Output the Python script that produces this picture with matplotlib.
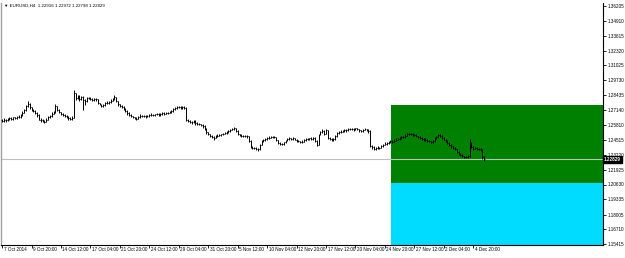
import matplotlib
matplotlib.use("Agg")
import matplotlib.pyplot as plt
import matplotlib.transforms as mtransforms
from matplotlib.patches import Rectangle

plt.rcParams['font.family'] = ['Liberation Sans', 'DejaVu Sans']

# ---- data (EURUSD H4, 7 Oct 2014 04:00 .. 5 Dec 2014 20:00) ----
closes = [
    1.2616, 1.2628, 1.2622, 1.2635, 1.2642,
    1.2633, 1.2648, 1.2641, 1.2655, 1.2650, 1.2662,
    1.2690, 1.2712, 1.2745, 1.2768, 1.2735, 1.2712,
    1.2705, 1.2690, 1.2668, 1.2630, 1.2625, 1.2618,
    1.2612, 1.2630, 1.2648, 1.2660, 1.2682, 1.2694,
    1.2745, 1.2715, 1.2692, 1.2680, 1.2672, 1.2665,
    1.2650, 1.2642, 1.2638, 1.2645, 1.2860, 1.2815,
    1.2832, 1.2810, 1.2824, 1.2800, 1.2790, 1.2815,
    1.2818, 1.2810, 1.2803, 1.2812, 1.2807, 1.2770,
    1.2763, 1.2746, 1.2758, 1.2770, 1.2775, 1.2781,
    1.2795, 1.2807, 1.2824, 1.2790, 1.2762, 1.2750,
    1.2737, 1.2720, 1.2705, 1.2685, 1.2672, 1.2660,
    1.2650, 1.2642, 1.2638, 1.2650, 1.2662, 1.2659,
    1.2662, 1.2655, 1.2660, 1.2668, 1.2670, 1.2672,
    1.2675, 1.2680, 1.2672, 1.2677, 1.2685, 1.2680,
    1.2688, 1.2690, 1.2694, 1.2705, 1.2718, 1.2730,
    1.2737, 1.2740, 1.2732, 1.2735, 1.2729, 1.2625,
    1.2620, 1.2612, 1.2608, 1.2615, 1.2600, 1.2595,
    1.2590, 1.2580, 1.2573, 1.2550, 1.2521, 1.2505,
    1.2490, 1.2477, 1.2470, 1.2485, 1.2490, 1.2495,
    1.2500, 1.2508, 1.2515, 1.2521, 1.2530, 1.2540,
    1.2548, 1.2555, 1.2530, 1.2503, 1.2495, 1.2490,
    1.2488, 1.2486, 1.2482, 1.2440, 1.2391, 1.2385,
    1.2380, 1.2375, 1.2373, 1.2410, 1.2443, 1.2450,
    1.2460, 1.2469, 1.2472, 1.2480, 1.2475, 1.2477,
    1.2450, 1.2425, 1.2420, 1.2417, 1.2430, 1.2445,
    1.2460, 1.2465, 1.2462, 1.2469, 1.2455, 1.2443,
    1.2440, 1.2434, 1.2438, 1.2450, 1.2458, 1.2460,
    1.2465, 1.2462, 1.2469, 1.2445, 1.2412, 1.2500,
    1.2521, 1.2530, 1.2505, 1.2538, 1.2469, 1.2460,
    1.2451, 1.2460, 1.2485, 1.2512, 1.2520, 1.2525,
    1.2530, 1.2535, 1.2538, 1.2545, 1.2550, 1.2547,
    1.2540, 1.2552, 1.2545, 1.2535, 1.2529, 1.2540,
    1.2545, 1.2538, 1.2530, 1.2399, 1.2390, 1.2373,
    1.2380, 1.2385, 1.2382, 1.2395, 1.2410, 1.2420,
    1.2425, 1.2430, 1.2440, 1.2434, 1.2445, 1.2455,
    1.2460, 1.2469, 1.2475, 1.2477, 1.2490, 1.2500,
    1.2505, 1.2503, 1.2498, 1.2495, 1.2485, 1.2478,
    1.2469, 1.2460, 1.2451, 1.2455, 1.2445, 1.2440,
    1.2434, 1.2440, 1.2469, 1.2480, 1.2495, 1.2488,
    1.2469, 1.2455, 1.2440, 1.2425, 1.2410, 1.2395,
    1.2382, 1.2370, 1.2350, 1.2330, 1.2320, 1.2310,
    1.2304, 1.2300, 1.2310, 1.2420, 1.2390, 1.2375,
    1.2382, 1.2375, 1.2370, 1.2365, 1.2304, 1.2283,
]
highs = [
    1.2638, 1.2640, 1.2636, 1.2645, 1.2655,
    1.2650, 1.2655, 1.2656, 1.2664, 1.2668, 1.2675,
    1.2702, 1.2725, 1.2760, 1.2790, 1.2775, 1.2742,
    1.2720, 1.2712, 1.2695, 1.2675, 1.2645, 1.2632,
    1.2628, 1.2640, 1.2658, 1.2672, 1.2695, 1.2705,
    1.2765, 1.2750, 1.2722, 1.2700, 1.2690, 1.2682,
    1.2672, 1.2660, 1.2652, 1.2660, 1.2887, 1.2865,
    1.2845, 1.2840, 1.2838, 1.2835, 1.2812, 1.2825,
    1.2828, 1.2825, 1.2818, 1.2822, 1.2820, 1.2812,
    1.2778, 1.2768, 1.2765, 1.2780, 1.2788, 1.2792,
    1.2805, 1.2815, 1.2842, 1.2830, 1.2795, 1.2768,
    1.2755, 1.2745, 1.2728, 1.2710, 1.2692, 1.2678,
    1.2665, 1.2655, 1.2650, 1.2660, 1.2675, 1.2670,
    1.2670, 1.2668, 1.2668, 1.2678, 1.2685, 1.2680,
    1.2682, 1.2690, 1.2688, 1.2686, 1.2695, 1.2692,
    1.2695, 1.2698, 1.2702, 1.2715, 1.2728, 1.2738,
    1.2745, 1.2752, 1.2748, 1.2745, 1.2745, 1.2735,
    1.2635, 1.2628, 1.2620, 1.2630, 1.2622, 1.2610,
    1.2600, 1.2595, 1.2588, 1.2580, 1.2555, 1.2525,
    1.2508, 1.2495, 1.2485, 1.2492, 1.2500, 1.2505,
    1.2508, 1.2515, 1.2525, 1.2532, 1.2540, 1.2550,
    1.2558, 1.2565, 1.2560, 1.2535, 1.2508, 1.2500,
    1.2498, 1.2495, 1.2495, 1.2490, 1.2450, 1.2400,
    1.2392, 1.2388, 1.2385, 1.2420, 1.2455, 1.2460,
    1.2470, 1.2478, 1.2482, 1.2490, 1.2488, 1.2485,
    1.2480, 1.2455, 1.2432, 1.2428, 1.2438, 1.2452,
    1.2468, 1.2475, 1.2472, 1.2478, 1.2472, 1.2460,
    1.2450, 1.2445, 1.2448, 1.2458, 1.2468, 1.2470,
    1.2472, 1.2475, 1.2478, 1.2475, 1.2450, 1.2508,
    1.2530, 1.2545, 1.2535, 1.2545, 1.2540, 1.2478,
    1.2465, 1.2470, 1.2495, 1.2520, 1.2532, 1.2535,
    1.2540, 1.2545, 1.2548, 1.2555, 1.2560, 1.2558,
    1.2552, 1.2560, 1.2558, 1.2550, 1.2542, 1.2548,
    1.2552, 1.2550, 1.2545, 1.2535, 1.2410, 1.2398,
    1.2390, 1.2395, 1.2392, 1.2405, 1.2420, 1.2430,
    1.2432, 1.2440, 1.2450, 1.2448, 1.2458, 1.2465,
    1.2470, 1.2478, 1.2485, 1.2488, 1.2500, 1.2510,
    1.2512, 1.2515, 1.2510, 1.2505, 1.2500, 1.2490,
    1.2482, 1.2475, 1.2465, 1.2465, 1.2460, 1.2452,
    1.2445, 1.2450, 1.2475, 1.2490, 1.2502, 1.2500,
    1.2492, 1.2475, 1.2460, 1.2448, 1.2432, 1.2415,
    1.2400, 1.2388, 1.2375, 1.2355, 1.2340, 1.2328,
    1.2315, 1.2312, 1.2318, 1.2456, 1.2430, 1.2400,
    1.2392, 1.2390, 1.2385, 1.2385, 1.2370, 1.2312,
]
lows = [
    1.2605, 1.2610, 1.2612, 1.2615, 1.2628,
    1.2625, 1.2628, 1.2632, 1.2636, 1.2640, 1.2645,
    1.2658, 1.2685, 1.2705, 1.2738, 1.2725, 1.2702,
    1.2695, 1.2680, 1.2655, 1.2622, 1.2612, 1.2605,
    1.2600, 1.2608, 1.2625, 1.2642, 1.2652, 1.2675,
    1.2688, 1.2705, 1.2685, 1.2670, 1.2660, 1.2655,
    1.2640, 1.2630, 1.2622, 1.2628, 1.2640, 1.2800,
    1.2805, 1.2795, 1.2800, 1.2711, 1.2760, 1.2782,
    1.2805, 1.2800, 1.2792, 1.2795, 1.2795, 1.2762,
    1.2755, 1.2738, 1.2740, 1.2752, 1.2762, 1.2768,
    1.2775, 1.2790, 1.2800, 1.2780, 1.2752, 1.2740,
    1.2728, 1.2710, 1.2695, 1.2670, 1.2660, 1.2650,
    1.2640, 1.2632, 1.2625, 1.2635, 1.2645, 1.2650,
    1.2652, 1.2645, 1.2648, 1.2655, 1.2660, 1.2664,
    1.2665, 1.2670, 1.2662, 1.2665, 1.2672, 1.2672,
    1.2675, 1.2680, 1.2684, 1.2690, 1.2700, 1.2712,
    1.2722, 1.2728, 1.2722, 1.2725, 1.2718, 1.2615,
    1.2608, 1.2600, 1.2595, 1.2598, 1.2585, 1.2585,
    1.2580, 1.2570, 1.2560, 1.2540, 1.2505, 1.2492,
    1.2480, 1.2465, 1.2455, 1.2465, 1.2478, 1.2485,
    1.2488, 1.2495, 1.2502, 1.2508, 1.2515, 1.2525,
    1.2535, 1.2540, 1.2522, 1.2495, 1.2482, 1.2480,
    1.2478, 1.2476, 1.2470, 1.2430, 1.2380, 1.2375,
    1.2370, 1.2365, 1.2357, 1.2365, 1.2405, 1.2438,
    1.2445, 1.2455, 1.2462, 1.2465, 1.2465, 1.2468,
    1.2442, 1.2418, 1.2410, 1.2405, 1.2412, 1.2425,
    1.2440, 1.2452, 1.2452, 1.2455, 1.2448, 1.2435,
    1.2432, 1.2425, 1.2428, 1.2432, 1.2445, 1.2450,
    1.2455, 1.2452, 1.2455, 1.2438, 1.2400, 1.2408,
    1.2495, 1.2512, 1.2498, 1.2500, 1.2460, 1.2450,
    1.2442, 1.2445, 1.2455, 1.2480, 1.2505, 1.2515,
    1.2518, 1.2522, 1.2525, 1.2530, 1.2538, 1.2538,
    1.2532, 1.2535, 1.2535, 1.2525, 1.2518, 1.2525,
    1.2535, 1.2530, 1.2515, 1.2390, 1.2375, 1.2365,
    1.2368, 1.2372, 1.2372, 1.2378, 1.2392, 1.2405,
    1.2412, 1.2418, 1.2425, 1.2425, 1.2430, 1.2440,
    1.2448, 1.2455, 1.2462, 1.2465, 1.2472, 1.2485,
    1.2492, 1.2495, 1.2490, 1.2485, 1.2478, 1.2470,
    1.2462, 1.2452, 1.2442, 1.2444, 1.2435, 1.2432,
    1.2428, 1.2428, 1.2435, 1.2462, 1.2475, 1.2480,
    1.2460, 1.2448, 1.2432, 1.2415, 1.2400, 1.2385,
    1.2372, 1.2360, 1.2340, 1.2318, 1.2308, 1.2300,
    1.2295, 1.2292, 1.2298, 1.2300, 1.2380, 1.2365,
    1.2370, 1.2365, 1.2360, 1.2355, 1.2285, 1.2270,
]
first_open = 1.2625

xtick_positions = [0, 16, 32, 48, 64, 80, 96, 112, 128, 144, 160, 176, 192, 208, 224, 240, 256]
xtick_labels = ["7 Oct 2014", "9 Oct 20:00", "14 Oct 12:00", "17 Oct 04:00", "21 Oct 20:00",
                "24 Oct 12:00", "29 Oct 04:00", "31 Oct 20:00", "5 Nov 12:00", "10 Nov 04:00",
                "12 Nov 20:00", "17 Nov 12:00", "20 Nov 04:00", "24 Nov 20:00", "27 Nov 12:00",
                "2 Dec 04:00", "4 Dec 20:00"]
ytick_values = [1.36205, 1.34910, 1.33615, 1.32320, 1.31025, 1.29730, 1.28435, 1.27140,
                1.25810, 1.24515, 1.23220, 1.21925, 1.20630, 1.19335, 1.18005, 1.16710, 1.15415]

symbol = "EURUSD,H4"
bar_ohlc_text = "1.22916 1.22972 1.22798 1.22829"
bid_price = 1.22829

zone_start_bar = 211.5
green_zone = (1.2079, 1.2755)
cyan_zone_top = 1.2079

# ---- figure ----
W, H = 625, 258
fig = plt.figure(figsize=(W / 100, H / 100), dpi=100)
fig.patch.set_facecolor("white")
ax = fig.add_axes([1 / W, 13 / H, 602 / W, 242 / H])
ax.set_facecolor("white")

xmin, xmax = -0.6, 326.5
ymin, ymax = 1.1535, 1.3647
ax.set_xlim(xmin, xmax)
ax.set_ylim(ymin, ymax)

# zones
ax.add_patch(Rectangle((zone_start_bar, green_zone[0]), xmax - zone_start_bar,
                       green_zone[1] - green_zone[0], facecolor="#008000",
                       edgecolor="none", zorder=1))
ax.add_patch(Rectangle((zone_start_bar, ymin), xmax - zone_start_bar,
                       cyan_zone_top - ymin, facecolor="#00DCFF",
                       edgecolor="none", zorder=1))

# bid line
ax.axhline(bid_price, color="#c0c0c0", lw=0.8, zorder=2)

# bars
n = len(closes)
xs = list(range(n))
opens = [first_open] + closes[:-1]
ax.vlines(xs, lows, highs, color="black", lw=0.7, zorder=3)
ax.hlines(opens, [x - 0.45 for x in xs], xs, color="black", lw=0.5, zorder=3)
ax.hlines(closes, xs, [x + 0.45 for x in xs], color="black", lw=0.5, zorder=3)

# spines
ax.spines["top"].set_visible(False)
ax.spines["left"].set_color("#a0a0a0")
ax.spines["left"].set_linewidth(1.0)
ax.spines["right"].set_color("black")
ax.spines["right"].set_linewidth(0.8)
ax.spines["bottom"].set_color("black")
ax.spines["bottom"].set_linewidth(0.8)

fs = 3.3
# y ticks on the right
ax.yaxis.tick_right()
ax.set_yticks(ytick_values)
ax.set_yticklabels([f"{v:.5f}" for v in ytick_values], fontsize=fs)
ax.tick_params(axis="y", direction="out", length=2, width=0.6, pad=1.5, colors="black")

# x ticks
ax.set_xticks(xtick_positions)
ax.set_xticklabels([])
ax.tick_params(axis="x", direction="out", length=2.5, width=0.6, colors="black")
offset = mtransforms.ScaledTranslation(1.5 / 100, -4.5 / 100, fig.dpi_scale_trans)
trans = mtransforms.blended_transform_factory(ax.transData, ax.transAxes) + offset
for p, lab in zip(xtick_positions, xtick_labels):
    ax.text(p, 0, lab, transform=trans, fontsize=fs, ha="left", va="center", color="black")

# current price label
ax.text(1.0, bid_price, "1.22829",
        transform=mtransforms.blended_transform_factory(ax.transAxes, ax.transData)
        + mtransforms.ScaledTranslation(1 / 100, 0, fig.dpi_scale_trans),
        fontsize=fs, color="white", ha="left", va="center", fontweight="bold",
        bbox=dict(boxstyle="square,pad=0.25", facecolor="black", edgecolor="black"),
        zorder=5, clip_on=False)

# header text
fig.text(4 / W, 1 - 6 / H, "\u25bc " + symbol + "  " + bar_ohlc_text, fontsize=3.2,
         ha="left", va="center", color="black", family=["Liberation Sans", "DejaVu Sans"])

fig.savefig("out.png", dpi=100, facecolor="white")
